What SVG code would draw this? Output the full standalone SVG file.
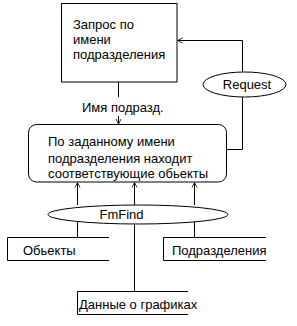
<svg xmlns="http://www.w3.org/2000/svg" width="297" height="326" viewBox="0 0 297 326">
<defs>
<marker id="arr" viewBox="0 0 10 10" refX="10" refY="5" markerWidth="5" markerHeight="7" markerUnits="userSpaceOnUse" orient="auto">
<path d="M0,0 L10,5 L0,10" fill="none" stroke="#000" stroke-width="1.6"/>
</marker>
<style>
text{font-family:"Liberation Sans",Arial,sans-serif;font-size:13px;fill:#000}
.s{fill:none;stroke:#000;stroke-width:1}
.w{fill:#fff;stroke:#000;stroke-width:1}
</style>
</defs>
<rect width="297" height="326" fill="#fff"/>
<g id="connectors">
<path class="s" d="M242.5,72 V40.5 H177.5" marker-end="url(#arr)"/>
<path class="s" d="M242.5,97 V149.5 H227"/>
<path class="s" d="M118.5,82 V97"/>
<path class="s" d="M118.5,116 V124" marker-end="url(#arr)"/>
<path class="s" d="M77.5,205 V182.5" marker-end="url(#arr)"/>
<path class="s" d="M134.5,205 V182.5" marker-end="url(#arr)"/>
<path class="s" d="M194.5,205 V182.5" marker-end="url(#arr)"/>
<path class="s" d="M77.5,222 V237"/>
<path class="s" d="M134.5,224 V291"/>
<path class="s" d="M194.5,222 V237"/>
<text x="82" y="112">Имя подразд.</text>
</g>
<g id="zapros">
<rect class="w" x="61.5" y="3.5" width="115.5" height="78.5"/>
<text x="73" y="29">Запрос по</text>
<text x="73" y="44">имени</text>
<text x="73" y="59">подразделения</text>
</g>
<g id="request">
<ellipse class="w" cx="244.5" cy="84.5" rx="41.5" ry="12.5"/>
<text x="247" y="89" text-anchor="middle">Request</text>
</g>
<g id="process">
<rect class="w" x="28.5" y="124.5" width="198" height="57.5" rx="8" ry="8"/>
<text x="48" y="146">По заданному имени</text>
<text x="48" y="163">подразделения находит</text>
<text x="48" y="178">соответствующие обьекты</text>
</g>
<g id="fmfind">
<ellipse class="w" cx="138" cy="214.5" rx="90" ry="9.5"/>
<text x="121.5" y="219" text-anchor="middle">FmFind</text>
</g>
<g id="objects">
<path class="s" d="M109,237.5 H7.5 V260.5 H109"/>
<text x="23" y="255">Обьекты</text>
</g>
<g id="divisions">
<path class="s" d="M266,237.5 H163.5 V260.5 H266"/>
<text x="172" y="255">Подразделения</text>
</g>
<g id="graphs">
<path class="s" d="M188,291.5 H77.5 V314.5 H188"/>
<text x="79" y="309">Данные о графиках</text>
</g>
</svg>
